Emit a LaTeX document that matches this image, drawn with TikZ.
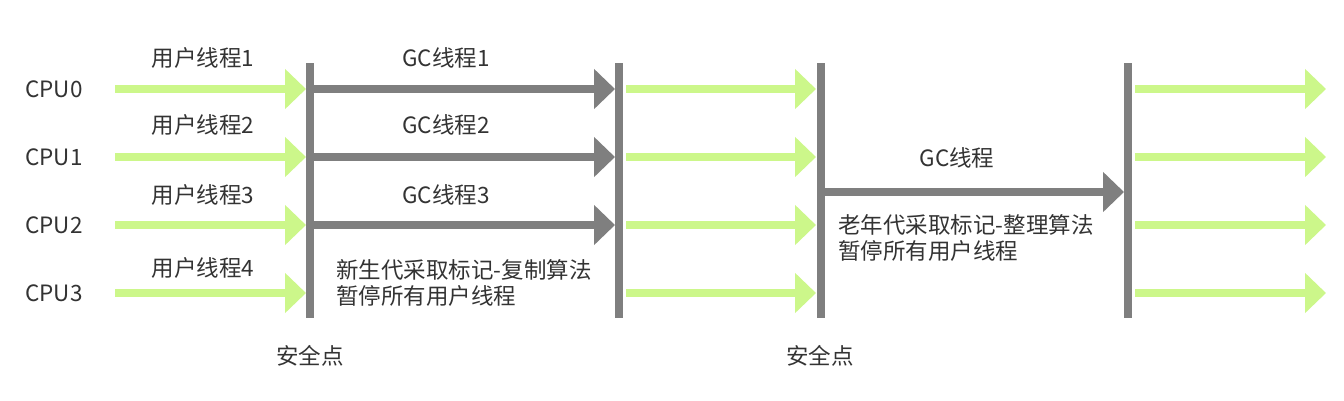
\documentclass[tikz,border=0pt]{standalone}
\usepackage{fontspec}
\setmainfont{Noto Sans CJK SC}
\usetikzlibrary{arrows.meta}
\definecolor{userg}{HTML}{CCF78A}
\definecolor{gcgray}{HTML}{7F7F7F}
\definecolor{txtc}{HTML}{333333}
\begin{document}
\begin{tikzpicture}[x=0.02cm,y=-0.02cm,>={Triangle[width=0.78cm,length=0.42cm]},
  lbl/.style={inner sep=0pt,text=txtc,font=\fontsize{12.8}{14.5}\selectfont},
  userarrow/.style={->,userg,line width=0.16cm},
  gcarrow/.style={->,gcgray,line width=0.17cm},
  bar/.style={gcgray,line width=0.17cm}]
\useasboundingbox (0,0) rectangle (1344,400);
% safe point bars
\foreach \x/\n in {310/a,619/b,821/c,1128/d}
  \draw[bar](\x,63)coordinate(\n top)--(\x,318)coordinate(\n bot);
% cpu rows
\foreach \i/\y/\ly in {0/89/58,1/157/125,2/225/195,3/293/268} {
  \node[lbl](cpu\i)at(54,\y){CPU\i};
  \coordinate(u\i s)at(115,\y);\coordinate(u\i e)at(306,\y);
  \draw[userarrow](u\i s)--(u\i e);
  \node[lbl](user\i)at(203,\ly){用户线程\the\numexpr\i+1\relax};
  \coordinate(m\i s)at(626,\y);\coordinate(m\i e)at(816,\y);
  \draw[userarrow](m\i s)--(m\i e);
  \coordinate(r\i s)at(1135,\y);\coordinate(r\i e)at(1326,\y);
  \draw[userarrow](r\i s)--(r\i e);
}
% young gen gc threads
\foreach \i/\y/\ly in {0/89/58,1/157/125,2/225/195} {
  \coordinate(g\i s)at(314,\y);\coordinate(g\i e)at(615,\y);
  \draw[gcarrow](g\i s)--(g\i e);
  \node[lbl](gc\i)at(446,\ly){GC线程\the\numexpr\i+1\relax};
}
\node[lbl,anchor=west,align=left](young)at(336,283){新生代采取标记-复制算法\\暂停所有用户线程};
% old gen gc thread
\coordinate(og s)at(825,192);\coordinate(og e)at(1124,192);
\draw[gcarrow](og s)--(og e);
\node[lbl](oldgc)at(957,158){GC线程};
\node[lbl,anchor=west,align=left](old)at(838,238){老年代采取标记-整理算法\\暂停所有用户线程};
% safe points
\node[lbl](safe1)at(310,356){安全点};
\node[lbl](safe2)at(820,356){安全点};
\end{tikzpicture}
\end{document}
